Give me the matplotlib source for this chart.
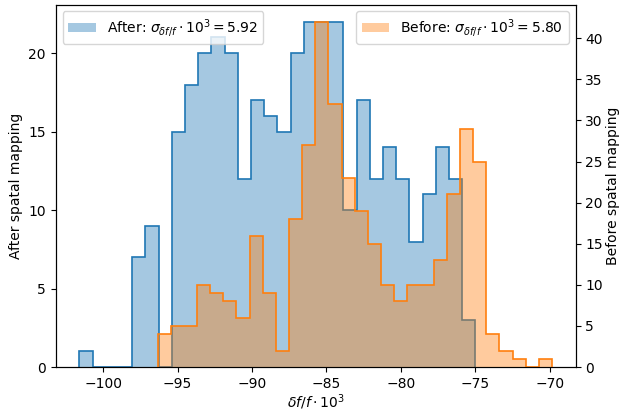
import numpy as np
import matplotlib
matplotlib.use('Agg')
import matplotlib.pyplot as plt

# counts per bin (30 bins each, own range)
after_counts = [1, 0, 0, 0, 7, 9, 0, 15, 18, 20, 21, 20, 12, 17, 16, 15, 20, 22, 22, 22,
                10, 17, 12, 14, 12, 8, 11, 14, 12, 3]
before_counts = [4, 5, 5, 10, 9, 8, 6, 16, 9, 2, 18, 27, 42, 32, 23, 19, 15, 10, 8, 10,
                 10, 13, 21, 29, 25, 4, 2, 1, 0, 1]
after_range = (-101.6, -75.0)
before_range = (-96.35, -69.85)
after_label = r'After: $\sigma_{\delta f/f}\cdot 10^3 = 5.92$'
before_label = r'Before: $\sigma_{\delta f/f}\cdot 10^3 = 5.80$'

after_edges = np.linspace(*after_range, len(after_counts) + 1)
before_edges = np.linspace(*before_range, len(before_counts) + 1)

fig, ax1 = plt.subplots(figsize=(6.21, 4.12), dpi=100)
fig.subplots_adjust(left=0.0897, right=0.927, bottom=0.109, top=0.989)

ax1.hist(after_edges[:-1], bins=after_edges, weights=after_counts,
         histtype='stepfilled', color='C0', alpha=0.4, label=after_label)
ax1.hist(after_edges[:-1], bins=after_edges, weights=after_counts,
         histtype='step', color='C0', linewidth=1.2)
ax1.set_ylabel('After spatal mapping')
ax1.set_xlabel(r'$\delta f/f\cdot 10^3$', labelpad=1)
ax1.legend(loc='upper left')

ax2 = ax1.twinx()
ax2.hist(before_edges[:-1], bins=before_edges, weights=before_counts,
         histtype='stepfilled', color='C1', alpha=0.4, label=before_label)
ax2.hist(before_edges[:-1], bins=before_edges, weights=before_counts,
         histtype='step', color='C1', linewidth=1.2)
ax2.set_ylabel('Before spatal mapping', labelpad=2)
ax2.legend(loc='upper right')

fig.savefig('out.png', dpi=100)
